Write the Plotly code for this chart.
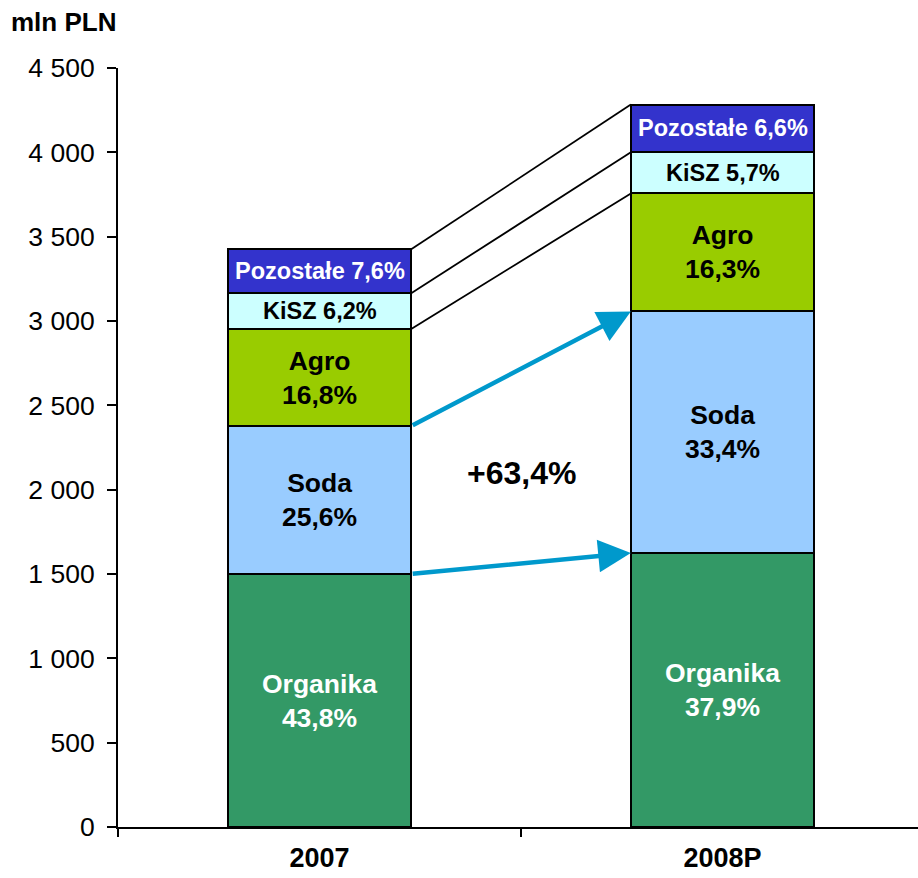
import numpy as np
import plotly.graph_objects as go

categories = ["2007", "2008P"]
segment_names = ["Organika", "Soda", "Agro", "KiSZ", "Pozostałe"]
organika = [1500, 1625]
soda = [877, 1432]
agro = [576, 699]
kisz = [212, 244]
pozostale = [260, 283]
organika_pct = ["43,8%", "37,9%"]
soda_pct = ["25,6%", "33,4%"]
agro_pct = ["16,8%", "16,3%"]
kisz_pct = ["6,2%", "5,7%"]
pozostale_pct = ["7,6%", "6,6%"]
growth_label = "+63,4%"
y_ticks = [0, 500, 1000, 1500, 2000, 2500, 3000, 3500, 4000, 4500]

series = [organika, soda, agro, kisz, pozostale]
pcts = [organika_pct, soda_pct, agro_pct, kisz_pct, pozostale_pct]
colors = ["#339966", "#99CCFF", "#99CC00", "#CCFFFF", "#3333CC"]
text_colors = ["white", "black", "black", "black", "white"]
two_line = [True, True, True, False, False]
label_sizes = [26.5, 26.5, 26.5, 23.5, 23.5]

FONT = "Liberation Sans, Arial, sans-serif"
BAR_W = 0.455
half = BAR_W / 2

fig = go.Figure()
for name, vals, col in zip(segment_names, series, colors):
    fig.add_trace(go.Bar(
        x=categories, y=vals, name=name, width=BAR_W,
        marker=dict(color=col, line=dict(color="black", width=2)),
        hoverinfo="skip", showlegend=False,
    ))

stack = np.cumsum(np.array(series, dtype=float), axis=0)
bottoms = stack - np.array(series, dtype=float)

annotations = []
for i, name in enumerate(segment_names):
    for j in range(len(categories)):
        mid = (stack[i, j] + bottoms[i, j]) / 2
        sep = "<br>" if two_line[i] else " "
        annotations.append(dict(
            x=j, y=mid, xref="x", yref="y",
            text=f"<b>{name}{sep}{pcts[i][j]}</b>", showarrow=False,
            font=dict(family=FONT, size=label_sizes[i], color=text_colors[i]),
            xanchor="center", yanchor="middle",
        ))

shapes = []
for i in [2, 3, 4]:
    shapes.append(dict(
        type="line", xref="x", yref="y",
        x0=0 + half, y0=stack[i, 0], x1=1 - half, y1=stack[i, 1],
        line=dict(color="black", width=1.8),
    ))

for i in [0, 1]:
    annotations.append(dict(
        x=1 - half, y=stack[i, 1], ax=0 + half, ay=stack[i, 0],
        xref="x", yref="y", axref="x", ayref="y",
        showarrow=True, arrowhead=2, arrowsize=1.45, arrowwidth=4.5,
        arrowcolor="#0099CC", standoff=0, startstandoff=0, text="",
    ))

annotations.append(dict(
    x=0.5, y=2100, xref="x", yref="y", text=f"<b>{growth_label}</b>",
    showarrow=False, font=dict(family=FONT, size=32, color="black"),
))
annotations.append(dict(
    x=0, y=1.06, xref="paper", yref="paper", text="<b>mln PLN</b>",
    showarrow=False, xanchor="right", yanchor="middle",
    font=dict(family=FONT, size=26, color="black"),
))

fig.update_layout(
    barmode="stack",
    width=918, height=878,
    margin=dict(l=118, r=0, t=68, b=51, autoexpand=False),
    paper_bgcolor="white", plot_bgcolor="white",
    separators=", ",
    font=dict(family=FONT, color="black"),
    annotations=annotations, shapes=shapes,
)
fig.update_xaxes(
    type="category", range=[-0.5, 1.485], tickson="boundaries",
    ticks="outside", ticklen=8, tickwidth=1.5, tickcolor="black",
    showline=True, linecolor="black", linewidth=2,
    showgrid=False, ticklabelstandoff=6, automargin=False,
    tickfont=dict(family=FONT, size=27, color="black"),
    tickprefix="<b>", ticksuffix="</b>",
)
fig.update_yaxes(
    range=[0, 4500], tickvals=y_ticks, tickformat=",d",
    ticks="outside", ticklen=9, tickwidth=1.5, tickcolor="black",
    showline=True, linecolor="black", linewidth=2,
    showgrid=False, zeroline=False, ticklabelstandoff=7, automargin=False,
    tickfont=dict(family=FONT, size=26.5, color="black"),
)
fig.write_html(
    "out.html",
    config={"displayModeBar": False},
    post_script="document.body.style.margin='0';document.body.style.padding='0';",
)
